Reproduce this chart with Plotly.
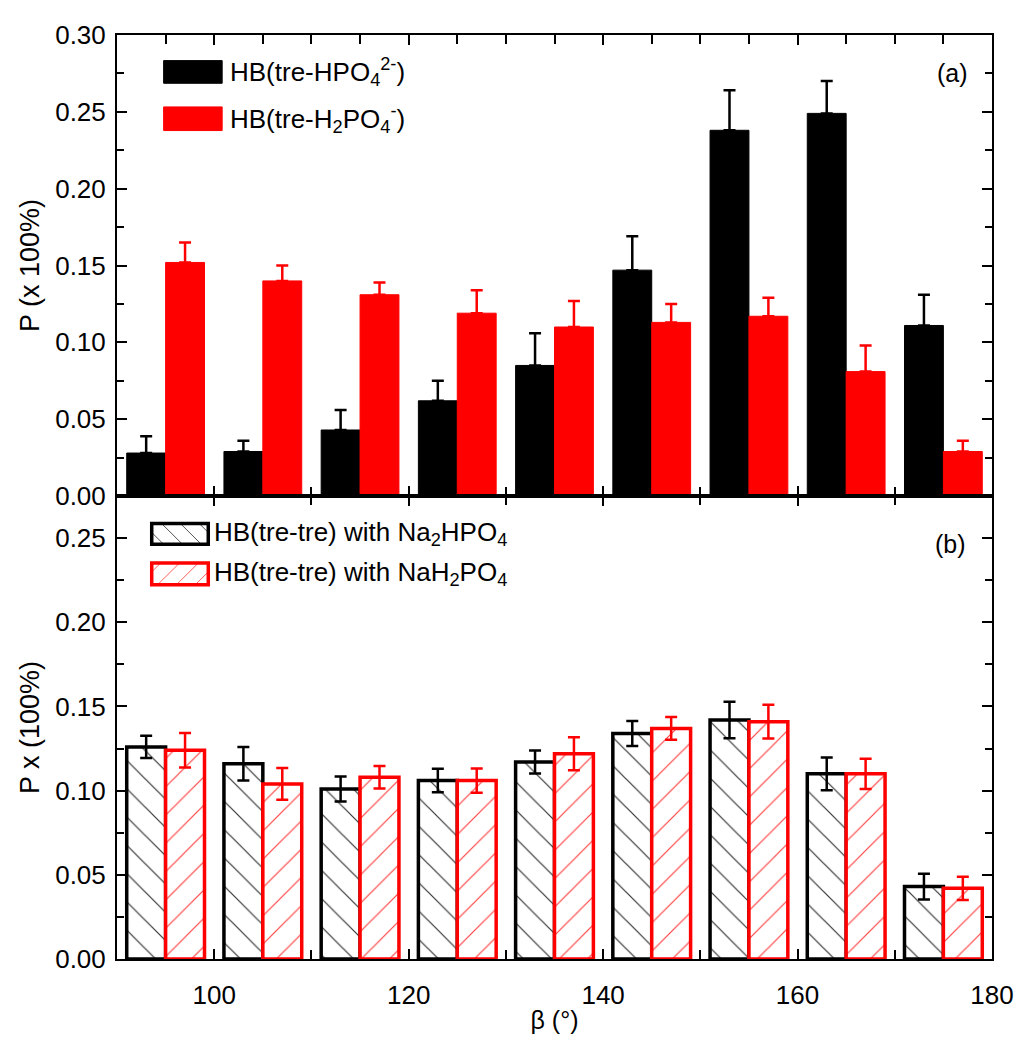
import plotly.graph_objects as go

# ---------------- data ----------------
beta_bins = [95, 105, 115, 125, 135, 145, 155, 165, 175]

a_hpo4 = [0.028, 0.029, 0.043, 0.062, 0.085, 0.147, 0.238, 0.249, 0.111]
a_hpo4_err = [0.011, 0.007, 0.013, 0.013, 0.021, 0.022, 0.026, 0.021, 0.020]
a_h2po4 = [0.152, 0.140, 0.131, 0.119, 0.110, 0.113, 0.117, 0.081, 0.029]
a_h2po4_err = [0.013, 0.010, 0.008, 0.015, 0.017, 0.012, 0.012, 0.017, 0.007]

b_na2 = [0.126, 0.116, 0.101, 0.106, 0.117, 0.134, 0.142, 0.110, 0.043]
b_na2_err = [0.0066, 0.010, 0.0074, 0.007, 0.0068, 0.0074, 0.0108, 0.0097, 0.0076]
b_nah2 = [0.124, 0.104, 0.108, 0.106, 0.122, 0.137, 0.141, 0.110, 0.042]
b_nah2_err = [0.0102, 0.0094, 0.0067, 0.0072, 0.0098, 0.0068, 0.010, 0.009, 0.0069]

legend_a = ["HB(tre-HPO<sub>4</sub><sup>2-</sup>)", "HB(tre-H<sub>2</sub>PO<sub>4</sub><sup>-</sup>)"]
legend_b = ["HB(tre-tre) with Na<sub>2</sub>HPO<sub>4</sub>", "HB(tre-tre) with NaH<sub>2</sub>PO<sub>4</sub>"]

# ---------------- layout constants ----------------
# the page body has an 8px margin, so the figure is drawn 8px in from the window edge
OFF = 8
W, H = 1034 - 2 * OFF, 1050 - 2 * OFF
L = 117 - OFF                 # plot left edge in window pixels: 117
R = W - (999 - OFF)           # plot right edge: 999
T = 28 - OFF                  # plot top: 28
B = H - (966 - OFF)           # plot bottom: 966
PW, PH = W - L - R, H - T - B
FONT = "Liberation Sans, Arial, sans-serif"
SPLIT = 0.501
TICK_SIZE = 26
TITLE_SIZE = 27
LEG_SIZE = 26


def px2x(px):
    """window pixel x -> paper x"""
    return (px - OFF - L) / PW


def py2y(py):
    """window pixel y -> paper y"""
    return (H - B - (py - OFF)) / PH


fig = go.Figure()

# ---------------- panel (a) ----------------
fig.add_trace(go.Bar(
    x=beta_bins, y=a_hpo4, width=4, offset=-4,
    marker=dict(color="black", line=dict(color="black", width=1)),
    error_y=dict(type="data", symmetric=False, array=a_hpo4_err,
                 arrayminus=[0] * len(a_hpo4), color="black", thickness=2.5, width=6),
    xaxis="x", yaxis="y", showlegend=False, name="HB(tre-HPO4 2-)"))
fig.add_trace(go.Bar(
    x=beta_bins, y=a_h2po4, width=4, offset=0,
    marker=dict(color="#ff0000", line=dict(color="#ff0000", width=1)),
    error_y=dict(type="data", symmetric=False, array=a_h2po4_err,
                 arrayminus=[0] * len(a_h2po4), color="#ff0000", thickness=2.5, width=6),
    xaxis="x", yaxis="y", showlegend=False, name="HB(tre-H2PO4 -)"))

# ---------------- panel (b) ----------------
fig.add_trace(go.Bar(
    x=beta_bins, y=b_na2, width=4, offset=-4,
    marker=dict(color="white", line=dict(color="black", width=3.5),
                pattern=dict(shape="\\", fgcolor="#333333", bgcolor="white",
                             size=20, solidity=0.06, fillmode="replace")),
    error_y=dict(type="data", array=b_na2_err, color="black", thickness=2.5, width=6),
    xaxis="x2", yaxis="y2", showlegend=False, name="HB(tre-tre) with Na2HPO4"))
fig.add_trace(go.Bar(
    x=beta_bins, y=b_nah2, width=4, offset=0,
    marker=dict(color="white", line=dict(color="#ff0000", width=3.5),
                pattern=dict(shape="/", fgcolor="#ff4040", bgcolor="white",
                             size=20, solidity=0.06, fillmode="replace")),
    error_y=dict(type="data", array=b_nah2_err, color="#ff0000", thickness=2.5, width=6),
    xaxis="x2", yaxis="y2", showlegend=False, name="HB(tre-tre) with NaH2PO4"))

axis_common = dict(showline=True, linewidth=2, linecolor="black", mirror="allticks",
                   ticks="inside", tickwidth=2, ticklen=10, tickcolor="black",
                   showgrid=False, zeroline=False,
                   tickfont=dict(family=FONT, size=TICK_SIZE, color="black"))

fig.update_layout(
    width=W, height=H,
    margin=dict(l=L, r=R, t=T, b=B),
    paper_bgcolor="white", plot_bgcolor="white",
    barmode="overlay",
    font=dict(family=FONT, size=24, color="black"),
    xaxis=dict(domain=[0, 1], anchor="y", range=[90, 180], tick0=100, dtick=20,
               showticklabels=False, layer="below traces",
               minor=dict(dtick=5, ticks="inside", ticklen=9, tickwidth=2, tickcolor="black"),
               **axis_common),
    yaxis=dict(domain=[SPLIT, 1], anchor="x", range=[0, 0.30], dtick=0.05, tickformat=".2f",
               ticklabelstandoff=4,
               minor=dict(dtick=0.025, ticks="inside", ticklen=7, tickwidth=2, tickcolor="black"),
               title=dict(text="P (x 100%)", font=dict(family=FONT, size=TITLE_SIZE), standoff=8),
               **axis_common),
    xaxis2=dict(domain=[0, 1], anchor="y2", range=[90, 180], tick0=100, dtick=20,
                ticklabelstandoff=12,
                minor=dict(dtick=10, ticks="inside", ticklen=9, tickwidth=2, tickcolor="black"),
                title=dict(text="β (°)", font=dict(family=FONT, size=25), standoff=2),
                **axis_common),
    yaxis2=dict(domain=[0, SPLIT], anchor="x2", range=[0, 0.275], dtick=0.05, tickformat=".2f",
                ticklabelstandoff=4,
                minor=dict(dtick=0.025, ticks="inside", ticklen=7, tickwidth=2, tickcolor="black"),
                title=dict(text="P x (100%)", font=dict(family=FONT, size=TITLE_SIZE), standoff=8),
                **axis_common),
)

# ---------------- custom legends ----------------
shapes = []
annotations = []


def rect(x0, y0, x1, y1, fill, line_color, line_width):
    shapes.append(dict(type="rect", xref="paper", yref="paper",
                       x0=px2x(x0), x1=px2x(x1), y0=py2y(y1), y1=py2y(y0),
                       fillcolor=fill, line=dict(color=line_color, width=line_width),
                       layer="above"))


def hatch(x0, y0, x1, y1, sign, spacing, offset, color):
    # lines y = sign*x + c in window pixel coordinates, clipped to the swatch
    if sign > 0:
        cmin, cmax = y0 - x1, y1 - x0
    else:
        cmin, cmax = x0 + y0, x1 + y1
    c = cmin + offset
    while c < cmax:
        pts = []
        for x in (x0, x1):
            y = sign * x + c
            if y0 - 1e-9 <= y <= y1 + 1e-9:
                pts.append((x, y))
        for y in (y0, y1):
            x = (y - c) * sign
            if x0 - 1e-9 <= x <= x1 + 1e-9:
                pts.append((x, y))
        if len(pts) >= 2:
            pts.sort()
            (ax, ay), (bx, by) = pts[0], pts[-1]
            if abs(ax - bx) > 1:
                shapes.append(dict(type="line", xref="paper", yref="paper",
                                   x0=px2x(ax), y0=py2y(ay), x1=px2x(bx), y1=py2y(by),
                                   line=dict(color=color, width=1), layer="above"))
        c += spacing


def label(px, py, text, anchor="left", size=LEG_SIZE):
    annotations.append(dict(xref="paper", yref="paper", x=px2x(px), y=py2y(py),
                            text=text, showarrow=False, xanchor=anchor, yanchor="middle",
                            font=dict(family=FONT, size=size, color="black")))


# legend (a)
rect(164, 54, 223, 77, "black", "black", 1)
rect(164, 101, 223, 125, "#ff0000", "#ff0000", 1)
label(229, 66, legend_a[0])
label(229, 113, legend_a[1])

# legend (b)
hatch(152, 524, 209, 545, 1, 19, 9, "#555555")
rect(152, 524, 209, 545, "rgba(0,0,0,0)", "black", 3.5)
hatch(152, 564, 209, 586, -1, 19, 9, "#ff6060")
rect(152, 564, 209, 586, "rgba(0,0,0,0)", "#ff0000", 3.5)
label(213, 534, legend_b[0])
label(213, 575, legend_b[1])

# panel labels
label(959, 67, "(a)", anchor="center", size=25)
label(957, 545, "(b)", anchor="center", size=25)

fig.update_layout(shapes=shapes, annotations=annotations)

fig.write_html("out.html")
